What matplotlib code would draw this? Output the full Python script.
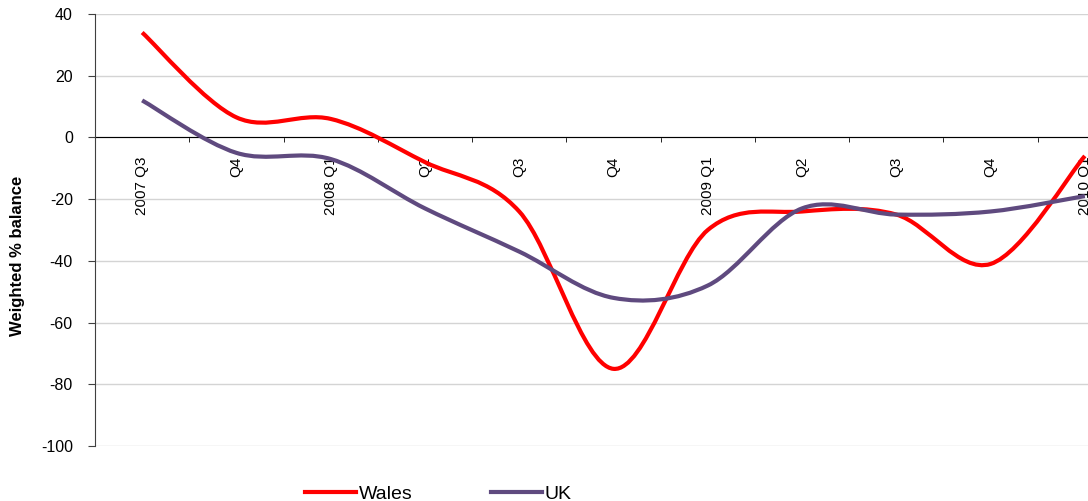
import numpy as np
import matplotlib.pyplot as plt
from matplotlib.path import Path
from matplotlib.patches import PathPatch
from matplotlib.lines import Line2D

plt.rcParams['font.family'] = ['Liberation Sans', 'DejaVu Sans']
plt.rcParams['axes.unicode_minus'] = False

quarters = ['2007 Q3', 'Q4', '2008 Q1', 'Q2', 'Q3', 'Q4',
            '2009 Q1', 'Q2', 'Q3', 'Q4', '2010 Q1']
wales = [34, 6.5, 6, -8, -24, -75, -30, -24, -25, -41, -6]
uk = [12, -5, -7, -23, -37, -52, -48, -23, -25, -24, -19]

WALES_COL = '#ff0000'
UK_COL = '#5f4a7f'


def smooth_path(xs, ys):
    # Bezier segments through every point (Excel-style smoothed line)
    n = len(xs)
    verts = [(xs[0], ys[0])]
    codes = [Path.MOVETO]
    for i in range(n - 1):
        a = max(i - 1, 0)
        b = min(i + 2, n - 1)
        c1 = (xs[i] + (xs[i + 1] - xs[a]) / 6, ys[i] + (ys[i + 1] - ys[a]) / 6)
        c2 = (xs[i + 1] - (xs[b] - xs[i]) / 6, ys[i + 1] - (ys[b] - ys[i]) / 6)
        verts += [c1, c2, (xs[i + 1], ys[i + 1])]
        codes += [Path.CURVE4] * 3
    return Path(verts, codes)


fig = plt.figure(figsize=(10.88, 5.01), dpi=100)
# axes run past the right edge of the figure, so the last quarter is cut
ax = fig.add_axes([95 / 1088, 1 - 446 / 501, 1037 / 1088, 432 / 501])

x = np.arange(len(quarters))
for vals, col in [(wales, WALES_COL), (uk, UK_COL)]:
    ax.add_patch(PathPatch(smooth_path(x, vals), fill=False, edgecolor=col,
                           lw=3, capstyle='butt', joinstyle='round',
                           zorder=3, clip_on=False))

ax.set_xlim(-0.5, len(quarters) - 0.5)
ax.set_ylim(-100, 40)
ax.set_yticks(range(-100, 41, 20))
ax.yaxis.grid(True, color='#d4d4d4', lw=1)
ax.set_axisbelow(True)

for s in ['top', 'right']:
    ax.spines[s].set_visible(False)
ax.spines['left'].set_color('#404040')
ax.spines['bottom'].set_position(('data', 0))
ax.spines['bottom'].set_color('black')
ax.spines['bottom'].set_zorder(2)

ax.set_xticks(x)
ax.set_xticklabels(quarters, rotation=90, fontsize=11)
ax.set_xticks(x[:-1] + 0.5, minor=True)
ax.tick_params(axis='x', which='major', length=0, pad=14)
ax.tick_params(axis='x', which='minor', length=3.6, color='black')
ax.tick_params(axis='y', length=5, color='#404040', labelsize=11.5, pad=11)

fig.text(18 / 1088, 1 - 256 / 501, 'Weighted % balance', rotation=90,
         fontsize=12, fontweight='bold', ha='center', va='center')

handles = [Line2D([], [], color=WALES_COL, lw=3),
           Line2D([], [], color=UK_COL, lw=3)]
fig.legend(handles, ['Wales', 'UK'], loc='center left',
           bbox_to_anchor=(305 / 1088, 1 - 494 / 501), ncol=2,
           frameon=False, fontsize=14, borderpad=0, borderaxespad=0,
           handlelength=2.6, handletextpad=0.15, columnspacing=4.05)

fig.savefig('out.png', dpi=100)
